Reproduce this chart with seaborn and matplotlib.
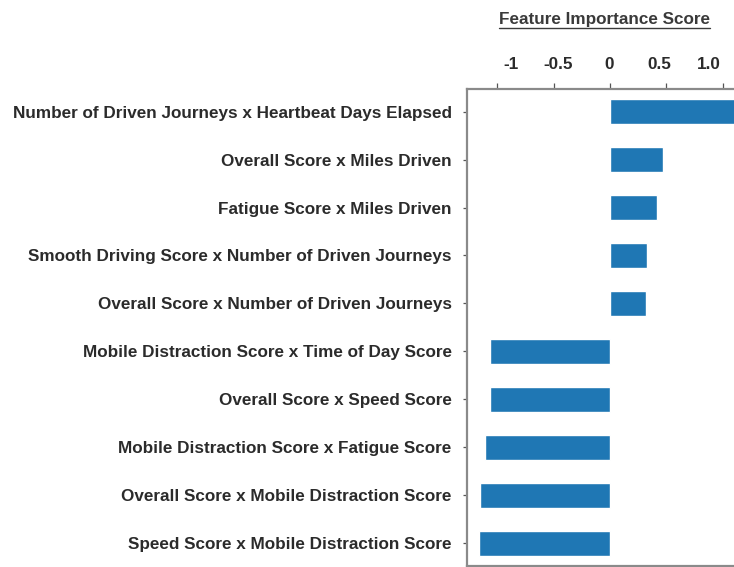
import matplotlib
matplotlib.use('Agg')
import matplotlib.pyplot as plt
import seaborn as sns
import pandas as pd

# feature names, top to bottom
features = [
    'Number of Driven Journeys x Heartbeat Days Elapsed',
    'Overall Score x Miles Driven',
    'Fatigue Score x Miles Driven',
    'Smooth Driving Score x Number of Driven Journeys',
    'Overall Score x Number of Driven Journeys',
    'Mobile Distraction Score x Time of Day Score',
    'Overall Score x Speed Score',
    'Mobile Distraction Score x Fatigue Score',
    'Overall Score x Mobile Distraction Score',
    'Speed Score x Mobile Distraction Score',
]
scores = [1.11, 0.47, 0.42, 0.33, 0.32, -1.06, -1.06, -1.11, -1.15, -1.16]
tick_vals = [-1, -0.5, 0, 0.5, 1.0]
tick_labels = ['-1', '-0.5', '0', '0.5', '1.0']
# in the source image the labels sit a little inward of their tick marks
label_pos = [-0.88, -0.46, -0.01, 0.435, 0.877]

df = pd.DataFrame({'feature': features, 'score': scores})

sns.set_style('white')
plt.rcParams['font.family'] = ['Liberation Sans', 'DejaVu Sans']

fig = plt.figure(figsize=(7.34, 5.67), dpi=100)
ax = fig.add_axes([0.636, 0.002, 0.37, 0.841])

sns.barplot(data=df, y='feature', x='score', orient='h', color='#1f77b4',
            saturation=1, width=0.52, ax=ax)

ax.set_xlim(-1.268, 1.138)
ax.set_ylim(9.47, -0.47)
ax.xaxis.tick_top()
ax.set_xticks(label_pos)
ax.set_xticklabels(tick_labels)
ax.set_xticks(tick_vals, minor=True)
ax.set_xlabel('')
ax.set_ylabel('')

for side in ['top', 'left', 'bottom']:
    ax.spines[side].set_visible(True)
    ax.spines[side].set_color('#8a8a8a')
    ax.spines[side].set_linewidth(1.6)
ax.spines['right'].set_visible(False)

ax.tick_params(axis='x', which='major', top=True, bottom=False, length=0,
               pad=12, labelsize=12.3, labelcolor='#2b2b2b')
ax.tick_params(axis='x', which='minor', top=True, bottom=False, length=4,
               width=0.9, color='#555555')
ax.tick_params(axis='y', left=True, length=3, width=0.9, color='#555555',
               pad=8, labelsize=12.3, labelcolor='#2b2b2b')
for lab in ax.get_xticklabels() + ax.get_yticklabels():
    lab.set_fontweight('semibold')

# underlined axis title
t = fig.text(0.824, 0.966, 'Feature Importance Score', ha='center', va='center',
             fontsize=12.3, fontweight='semibold', color='#3a3a3a')
fig.canvas.draw()
bb = t.get_window_extent().transformed(fig.transFigure.inverted())
fig.add_artist(plt.Line2D([bb.x0, bb.x1], [bb.y0 - 0.002, bb.y0 - 0.002],
                          color='#3a3a3a', linewidth=1.0, transform=fig.transFigure))

fig.savefig('out.png', dpi=100)
